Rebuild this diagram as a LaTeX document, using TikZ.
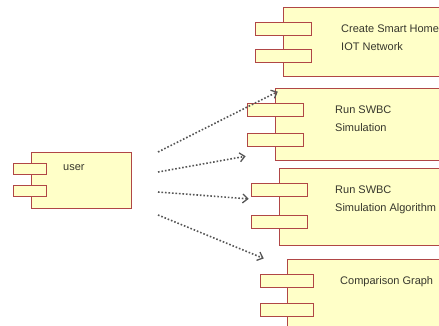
\documentclass[tikz,border=0pt]{standalone}
\usepackage{fontspec}
\setmainfont{Liberation Sans}
\usepackage{tikz}
\usetikzlibrary{arrows.meta}
\definecolor{compfill}{RGB}{255,255,200}
\definecolor{compedge}{RGB}{176,70,70}
\definecolor{lbltext}{RGB}{55,55,45}
\definecolor{depline}{RGB}{85,85,85}

\tikzset{
  comp/.style={draw=compedge,fill=compfill,line width=1.1pt,inner sep=0pt,anchor=north west},
  tabbox/.style={comp,minimum width=56pt,minimum height=13pt},
  lbl/.style={text=lbltext,font=\fontsize{11}{18}\selectfont,align=left,anchor=west,inner sep=0pt},
  dep/.style={depline,line width=1.6pt,dash pattern=on 1.6pt off 1.9pt,
    -{Straight Barb[length=5pt,width=9pt,line width=1.3pt,sep]}}
}

\begin{document}
\begin{tikzpicture}[x=1pt,y=-1pt]
\useasboundingbox (0,0) rectangle (439,326);
\clip (0,0) rectangle (439,326);

% user
\node[comp,minimum width=100pt,minimum height=56pt] (user) at (31,152) {};
\node[tabbox,minimum width=33pt,minimum height=11pt] (usertab1) at (13,163) {};
\node[tabbox,minimum width=33pt,minimum height=11pt] (usertab2) at (13,185) {};
\node[lbl] (userlbl) at (63,168) {user};

% create smart home
\node[comp,minimum width=200pt,minimum height=69pt] (iot) at (283,7) {};
\node[tabbox] (iottab1) at (255,22) {};
\node[tabbox] (iottab2) at (255,49) {};
\node[lbl] (iotlbl) at (341,38) {Create Smart Home\\IOT Network};

% run simulation
\node[comp,minimum width=200pt,minimum height=72pt] (sim) at (275,88) {};
\node[tabbox] (simtab1) at (247,103) {};
\node[tabbox] (simtab2) at (247,133) {};
\node[lbl] (simlbl) at (335,119) {Run SWBC\\Simulation};

% run algorithm
\node[comp,minimum width=200pt,minimum height=77pt] (algo) at (279,168) {};
\node[tabbox] (algotab1) at (251,183) {};
\node[tabbox] (algotab2) at (251,215) {};
\node[lbl] (algolbl) at (335,200) {Run SWBC\\Simulation  Algorithm};

% comparison graph
\node[comp,minimum width=200pt,minimum height=90pt] (graph) at (287,259) {};
\node[tabbox,minimum width=53pt] (graphtab1) at (260,274) {};
\node[tabbox,minimum width=53pt] (graphtab2) at (260,303) {};
\node[lbl] (graphlbl) at (340,282) {Comparison Graph};

% dependencies
\coordinate (d1) at (158,152);
\coordinate (d2) at (158,172);
\coordinate (d3) at (158,192);
\coordinate (d4) at (158,215);
\coordinate (e1) at (279,91);
\coordinate (e2) at (247,156);
\coordinate (e3) at (250,199);
\coordinate (e4) at (265,259);
\draw[dep] (d1) -- (e1);
\draw[dep] (d2) -- (e2);
\draw[dep] (d3) -- (e3);
\draw[dep] (d4) -- (e4);
\end{tikzpicture}
\end{document}
